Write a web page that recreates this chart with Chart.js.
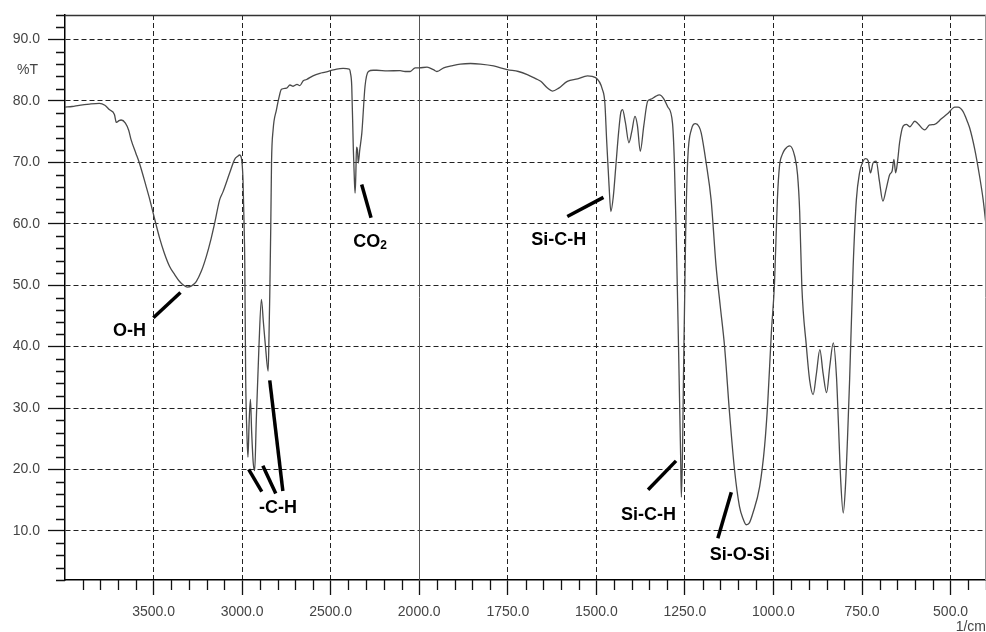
<!DOCTYPE html>
<html>
<head>
<meta charset="utf-8">
<title>IR spectrum</title>
<script src="https://cdn.jsdelivr.net/npm/chart.js@4.4.1/dist/chart.umd.min.js"></script>
<style>
    html, body { margin: 0; padding: 0; background: #fff; }
    #wrap { width: 986px; height: 632px; }
</style>
</head>
<body>
<div id="wrap"><canvas id="spectrum" width="986" height="632"></canvas></div>
<script>
// Spectrum, wavenumber (1/cm) from high to low
const wavenumbers = [
    4000, 3960, 3920, 3860, 3806, 3775, 3750, 3721, 3710, 3695, 3683, 3659, 3640, 3627, 3600, 3580,
    3542, 3520, 3500, 3467, 3440, 3410, 3380, 3353, 3330, 3310, 3285, 3259, 3230, 3202, 3175, 3155,
    3127, 3108, 3070, 3042, 3025, 3014, 3004, 2995, 2989, 2985, 2980, 2972, 2967, 2960, 2953, 2946,
    2937, 2929, 2920, 2905, 2891, 2880, 2868, 2853, 2848, 2844, 2838, 2834, 2825, 2806, 2790, 2778,
    2749, 2730, 2712, 2690, 2674, 2655, 2636, 2600, 2561, 2530, 2500, 2466, 2430, 2395, 2388, 2381,
    2372, 2366, 2362, 2358, 2354, 2349, 2344, 2336, 2324, 2306, 2287, 2260, 2240, 2180, 2108, 2080,
    2051, 2023, 2000, 1978, 1960, 1950, 1931, 1910, 1884, 1855, 1827, 1790, 1752, 1720, 1695, 1670,
    1657, 1638, 1624, 1606, 1582, 1553, 1525, 1502, 1483, 1476, 1471, 1464, 1459, 1452, 1445, 1437,
    1431, 1426, 1418, 1408, 1400, 1391, 1384, 1376, 1366, 1355, 1346, 1334, 1322, 1310, 1299, 1285,
    1280, 1275, 1268, 1262, 1260, 1257, 1254, 1248, 1242, 1232, 1220, 1210, 1204, 1190, 1176, 1162,
    1150, 1138, 1124, 1110, 1096, 1086, 1077, 1068, 1058, 1039, 1025, 1016, 1006, 997, 989, 983,
    975, 968, 954, 940, 932, 926, 920, 907, 898, 888, 879, 869, 860, 850, 841, 831,
    822, 817, 810, 803, 797, 791, 785, 775, 766, 757, 747, 740, 733, 726, 719, 710,
    701, 691, 682, 672, 665, 660, 655, 649, 644, 634, 625, 615, 601, 592, 573, 559,
    545, 526, 507, 488, 479, 465, 451, 446, 432, 418, 408, 400
];
const transmittance = [
    79.0, 79.1, 79.3, 79.5, 79.6, 79.3, 78.6, 77.8, 76.5, 76.8, 76.9, 76.4, 75.2, 73.7, 71.5, 69.9,
    66.1, 63.8, 61.5, 57.8, 55.3, 53.1, 51.7, 50.6, 50.0, 49.7, 49.9, 50.6, 52.3, 54.7, 57.6, 60.1,
    63.9, 65.2, 68.3, 70.5, 71.0, 71.2, 70.7, 67.2, 60.0, 53.7, 35.2, 25.0, 22.0, 28.0, 31.4, 26.0,
    21.0, 19.8, 28.0, 40.0, 47.7, 44.0, 40.0, 36.0, 42.0, 48.2, 60.0, 69.9, 75.3, 78.6, 80.8, 81.9,
    82.1, 82.6, 82.4, 82.7, 82.5, 83.3, 83.5, 84.1, 84.5, 84.7, 84.95, 85.2, 85.3, 85.2, 84.5, 82.4,
    72.1, 67.0, 65.0, 68.0, 72.5, 72.1, 69.9, 72.0, 74.8, 82.4, 84.8, 85.0, 85.0, 84.9, 84.95, 84.8,
    84.8, 85.4, 85.4, 85.5, 85.1, 84.8, 85.4, 85.7, 86.0, 86.1, 86.0, 85.7, 85.1, 84.8, 84.3, 83.6,
    83.2, 82.1, 81.6, 82.1, 83.2, 83.6, 84.1, 83.8, 81.9, 79.7, 73.7, 66.1, 62.0, 64.5, 69.4, 75.0,
    78.1, 78.6, 76.5, 73.2, 75.0, 77.5, 76.0, 71.8, 76.0, 80.0, 80.3, 80.7, 81.0, 80.4, 79.1, 76.4,
    70.5, 59.6, 40.0, 22.0, 15.5, 22.0, 35.0, 58.0, 70.5, 75.3, 76.3, 75.8, 74.8, 69.9, 63.9, 53.1,
    46.5, 40.0, 29.2, 20.0, 14.0, 12.0, 11.0, 11.3, 12.9, 17.2, 23.8, 31.0, 42.2, 50.4, 63.9, 69.4,
    71.3, 72.1, 72.7, 71.0, 68.0, 62.0, 50.0, 40.0, 34.6, 32.2, 35.5, 39.5, 35.7, 32.5, 36.8, 40.6,
    35.0, 28.1, 18.0, 12.9, 17.0, 25.0, 34.6, 53.1, 63.9, 68.3, 70.2, 70.6, 70.3, 68.3, 69.9, 70.2,
    67.0, 63.7, 65.6, 68.0, 68.6, 70.5, 68.3, 70.5, 73.2, 75.9, 76.2, 75.8, 76.7, 76.3, 75.3, 76.1,
    76.2, 77.1, 78.0, 79.0, 79.0, 78.3, 76.4, 75.6, 72.2, 67.7, 63.9, 59.8
];

const xMajorTicks = [3500, 3000, 2500, 2000, 1750, 1500, 1250, 1000, 750, 500];
const yMajorTicks = [10, 20, 30, 40, 50, 60, 70, 80, 90];

const bandLabels = ['O-H', '-C-H', 'CO2', 'Si-C-H', 'Si-C-H', 'Si-O-Si'];
// label centres as [wavenumber, %T]
const bandLabelAt = [[3636, 42.6], [2798, 13.8], [2277, 57.0], [1606, 57.4], [1353, 12.6], [1095, 6.0]];
// leader lines: [from wavenumber, from %T, to wavenumber, to %T]
const bandLeaders = [
    [3501, 44.7, 3348, 48.8],
    [2963, 20.0, 2889, 16.4],
    [2883, 20.6, 2810, 16.1],
    [2844, 34.5, 2770, 16.5],
    [2325, 66.4, 2272, 61.0],
    [1582, 61.2, 1480, 64.3],
    [1354, 16.7, 1275, 21.4],
    [1157, 8.8, 1119, 16.3],
];

// the instrument halves the scale above 2000 1/cm
function toAxis(w) {
    return w >= 2000 ? (4000 - w) / 2 : 1000 + (2000 - w);
}
function fromAxis(t) {
    return t <= 1000 ? 4000 - t * 2 : 2000 - (t - 1000);
}

const xMinorTicks = [];
for (let w = 3900; w > 2000; w -= 100) {
    if (!xMajorTicks.includes(w)) xMinorTicks.push(w);
}
for (let w = 1950; w >= 400; w -= 50) {
    if (!xMajorTicks.includes(w)) xMinorTicks.push(w);
}
const yMinorTicks = [];
for (let v = 2; v <= 94; v += 2) {
    if (!yMajorTicks.includes(v)) yMinorTicks.push(v);
}

const FONT = "'Liberation Sans', Arial, sans-serif";

const spectrumOverlay = {
    id: 'spectrumOverlay',
    beforeDatasetsDraw(chart) {
        const { ctx, chartArea, scales } = chart;
        const px = Math.round(scales.x.getPixelForValue(toAxis(2000))) + 0.5;
        ctx.save();
        ctx.strokeStyle = '#555';
        ctx.lineWidth = 1;
        ctx.beginPath();
        ctx.moveTo(px, chartArea.top);
        ctx.lineTo(px, chartArea.bottom);
        ctx.stroke();
        ctx.restore();
    },
    afterDraw(chart) {
        const { ctx, chartArea, scales } = chart;
        const xs = scales.x;
        const ys = scales.y;
        ctx.save();

        // frame on top and right
        ctx.strokeStyle = '#333';
        ctx.lineWidth = 1.5;
        ctx.beginPath();
        ctx.moveTo(chartArea.left, chartArea.top + 0.5);
        ctx.lineTo(chartArea.right, chartArea.top + 0.5);
        ctx.stroke();
        ctx.strokeStyle = '#999';
        ctx.lineWidth = 1;
        ctx.beginPath();
        ctx.moveTo(chartArea.right - 0.5, chartArea.top);
        ctx.lineTo(chartArea.right - 0.5, chartArea.bottom);
        ctx.stroke();

        // minor ticks
        ctx.strokeStyle = '#111';
        ctx.lineWidth = 1.3;
        ctx.beginPath();
        xMinorTicks.forEach((w) => {
            const px = Math.round(xs.getPixelForValue(toAxis(w))) + 0.5;
            ctx.moveTo(px, chartArea.bottom);
            ctx.lineTo(px, chartArea.bottom + 10);
        });
        yMinorTicks.forEach((v) => {
            const py = Math.round(ys.getPixelForValue(v)) + 0.5;
            ctx.moveTo(chartArea.left - 9, py);
            ctx.lineTo(chartArea.left, py);
        });
        ctx.stroke();

        // axis captions
        ctx.fillStyle = '#444';
        ctx.font = `14px ${FONT}`;
        ctx.textAlign = 'right';
        ctx.textBaseline = 'middle';
        ctx.fillText('%T', 38, ys.getPixelForValue(85));
        ctx.textBaseline = 'top';
        ctx.fillText('1/cm', 986, 620);

        // band assignments
        ctx.strokeStyle = '#000';
        ctx.lineWidth = 3.5;
        bandLeaders.forEach(([w1, t1, w2, t2]) => {
            ctx.beginPath();
            ctx.moveTo(xs.getPixelForValue(toAxis(w1)), ys.getPixelForValue(t1));
            ctx.lineTo(xs.getPixelForValue(toAxis(w2)), ys.getPixelForValue(t2));
            ctx.stroke();
        });

        ctx.fillStyle = '#000';
        ctx.textBaseline = 'middle';
        const bold = `bold 18px ${FONT}`;
        const sub = `bold 12px ${FONT}`;
        bandLabels.forEach((text, i) => {
            const cx = xs.getPixelForValue(toAxis(bandLabelAt[i][0]));
            const cy = ys.getPixelForValue(bandLabelAt[i][1]);
            if (text === 'CO2') {
                ctx.font = bold;
                const wMain = ctx.measureText('CO').width;
                ctx.font = sub;
                const wSub = ctx.measureText('2').width;
                const left = cx - (wMain + wSub) / 2;
                ctx.textAlign = 'left';
                ctx.font = bold;
                ctx.fillText('CO', left, cy);
                ctx.font = sub;
                ctx.fillText('2', left + wMain, cy + 3);
            } else {
                ctx.textAlign = 'center';
                ctx.font = bold;
                ctx.fillText(text, cx, cy);
            }
        });

        ctx.restore();
    },
};

const points = wavenumbers.map((w, i) => ({ x: toAxis(w), y: transmittance[i] }));

new Chart(document.getElementById('spectrum').getContext('2d'), {
    type: 'line',
    data: {
        datasets: [
            {
                data: points,
                borderColor: '#4a4a4a',
                borderWidth: 1.3,
                pointRadius: 0,
                cubicInterpolationMode: 'monotone',
                fill: false,
            },
        ],
    },
    options: {
        responsive: false,
        animation: false,
        devicePixelRatio: 1,
        layout: { padding: { top: 15, right: 0, left: 0, bottom: 0 } },
        plugins: {
            legend: { display: false },
            tooltip: { enabled: false },
        },
        scales: {
            x: {
                type: 'linear',
                min: 0,
                max: toAxis(400),
                afterBuildTicks(scale) {
                    scale.ticks = xMajorTicks.map((w) => ({ value: toAxis(w) }));
                },
                afterFit(scale) {
                    scale.height = 52;
                    scale.paddingLeft = 0;
                    scale.paddingRight = 0;
                },
                ticks: {
                    autoSkip: false,
                    maxRotation: 0,
                    padding: 9,
                    color: '#444',
                    font: { family: FONT, size: 14 },
                    callback(value) {
                        return fromAxis(value).toFixed(1);
                    },
                },
                grid: {
                    color(ctx) {
                        return ctx.tick && ctx.tick.value === toAxis(2000) ? 'rgba(0,0,0,0)' : '#222';
                    },
                    lineWidth: 1,
                    tickColor: '#111',
                    tickWidth: 1.3,
                    tickLength: 15,
                },
                border: { display: true, color: '#000', width: 1.5, dash: [5, 3] },
            },
            y: {
                type: 'linear',
                min: 2,
                max: 94,
                afterBuildTicks(scale) {
                    scale.ticks = yMajorTicks.map((v) => ({ value: v }));
                },
                afterFit(scale) {
                    scale.width = 65;
                    scale.paddingTop = 0;
                    scale.paddingBottom = 0;
                },
                ticks: {
                    autoSkip: false,
                    padding: 8,
                    color: '#444',
                    font: { family: FONT, size: 14 },
                    callback(value) {
                        return Number(value).toFixed(1);
                    },
                },
                grid: {
                    color: '#222',
                    lineWidth: 1,
                    tickColor: '#111',
                    tickWidth: 1.3,
                    tickLength: 17,
                },
                border: { display: true, color: '#000', width: 1.5, dash: [5, 3] },
            },
        },
    },
    plugins: [spectrumOverlay],
});
</script>
</body>
</html>
